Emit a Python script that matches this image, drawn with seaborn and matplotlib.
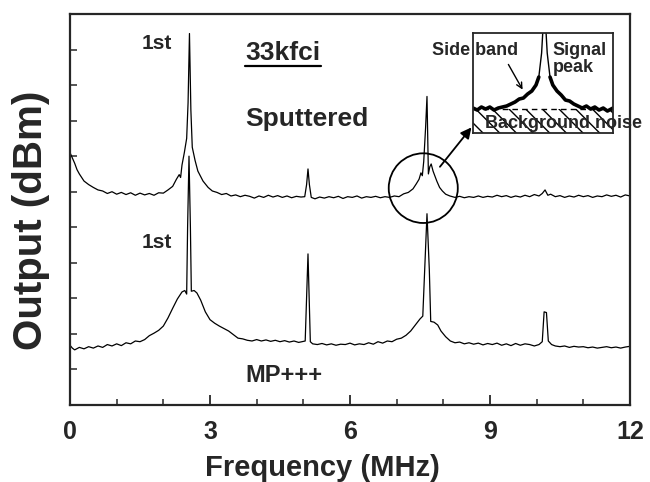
import matplotlib
matplotlib.use("Agg")
import matplotlib.pyplot as plt
from matplotlib.patches import Ellipse
import seaborn as sns
import numpy as np
import pandas as pd

# spectrum of the sputtered medium (upper trace)
sput_freq = [0.00, 0.05, 0.10, 0.15, 0.20, 0.25, 0.30, 0.40, 0.50, 0.60, 0.70, 0.80, 0.90,
             1.00, 1.10, 1.20, 1.30, 1.40, 1.50, 1.60, 1.70, 1.80, 1.90, 2.00, 2.10, 2.20,
             2.28, 2.34, 2.37, 2.40, 2.45, 2.50, 2.53, 2.56, 2.59, 2.62, 2.68, 2.74, 2.85,
             2.96, 3.05, 3.15, 3.25, 3.35, 3.45, 3.55, 3.65, 3.75, 3.85, 3.95, 4.05, 4.15,
             4.25, 4.35, 4.45, 4.55, 4.65, 4.75, 4.85, 4.95, 5.03, 5.07, 5.10, 5.13, 5.17,
             5.25, 5.35, 5.45, 5.55, 5.65, 5.75, 5.85, 5.95, 6.05, 6.15, 6.25, 6.35, 6.45,
             6.55, 6.65, 6.75, 6.85, 6.95, 7.05, 7.15, 7.25, 7.35, 7.42, 7.48, 7.52, 7.55,
             7.58, 7.62, 7.65, 7.68, 7.71, 7.74, 7.78, 7.86, 7.92, 7.98, 8.05, 8.14, 8.25,
             8.35, 8.45, 8.55, 8.65, 8.75, 8.85, 8.95, 9.05, 9.15, 9.25, 9.35, 9.45, 9.55,
             9.65, 9.75, 9.85, 9.95, 10.05, 10.12, 10.18, 10.24, 10.30, 10.40, 10.50, 10.60,
             10.70, 10.80, 10.90, 11.00, 11.10, 11.20, 11.30, 11.40, 11.50, 11.60, 11.70,
             11.80, 11.90, 12.00]
sput_out = [7.10, 6.95, 6.80, 6.62, 6.50, 6.40, 6.30, 6.20, 6.12, 6.05, 6.02, 5.95, 6.00,
            5.93, 5.98, 5.92, 5.97, 5.90, 5.96, 5.91, 5.95, 5.90, 5.97, 5.96, 6.05, 6.15,
            6.35, 6.48, 6.40, 6.75, 7.10, 7.50, 8.50, 10.45, 8.30, 7.25, 6.88, 6.58, 6.30,
            6.12, 6.02, 5.98, 5.92, 5.95, 5.88, 5.91, 5.86, 5.90, 5.87, 5.82, 5.88, 5.84,
            5.90, 5.85, 5.89, 5.84, 5.88, 5.83, 5.87, 5.85, 5.86, 6.20, 6.64, 6.20, 5.84,
            5.80, 5.85, 5.82, 5.86, 5.83, 5.87, 5.81, 5.86, 5.84, 5.88, 5.82, 5.86, 5.84,
            5.87, 5.83, 5.86, 5.84, 5.88, 5.86, 5.94, 5.98, 6.08, 6.22, 6.35, 6.53, 6.45,
            6.85, 7.80, 8.68, 6.50, 6.70, 6.78, 6.58, 6.30, 6.12, 6.02, 5.93, 5.88, 5.84,
            5.87, 5.83, 5.86, 5.84, 5.88, 5.84, 5.87, 5.85, 5.90, 5.86, 5.89, 5.84, 5.88,
            5.85, 5.90, 5.86, 5.92, 5.88, 5.95, 6.05, 5.90, 5.93, 5.86, 5.89, 5.84,
            5.88, 5.85, 5.90, 5.86, 5.89, 5.84, 5.88, 5.86, 5.91, 5.87, 5.90,
            5.85, 5.91, 5.88]

# spectrum of the MP+++ medium (lower trace)
mp_freq = [0.00, 0.05, 0.10, 0.20, 0.30, 0.40, 0.50, 0.60, 0.70, 0.80, 0.90, 1.00, 1.10,
           1.20, 1.30, 1.40, 1.50, 1.60, 1.70, 1.80, 1.90, 2.00, 2.10, 2.20, 2.30, 2.40,
           2.46, 2.50, 2.52, 2.55, 2.58, 2.60, 2.66, 2.72, 2.80, 2.90, 3.00, 3.10, 3.20,
           3.30, 3.40, 3.50, 3.60, 3.70, 3.80, 3.90, 4.00, 4.10, 4.20, 4.30, 4.40, 4.50,
           4.60, 4.70, 4.80, 4.90, 5.00, 5.04, 5.10, 5.15, 5.20, 5.30, 5.40, 5.50, 5.60,
           5.70, 5.80, 5.90, 6.00, 6.10, 6.20, 6.30, 6.40, 6.50, 6.60, 6.70, 6.80, 6.90,
           7.00, 7.10, 7.20, 7.30, 7.40, 7.50, 7.56, 7.60, 7.65, 7.70, 7.73, 7.80, 7.88,
           7.95, 8.05, 8.15, 8.25, 8.35, 8.45, 8.55, 8.65, 8.75, 8.85, 8.95, 9.05, 9.15,
           9.25, 9.35, 9.45, 9.55, 9.65, 9.75, 9.85, 9.95, 10.05, 10.12, 10.16, 10.21,
           10.25, 10.32, 10.40, 10.50, 10.60, 10.70, 10.80, 10.90, 11.00, 11.10, 11.20,
           11.30, 11.40, 11.50, 11.60, 11.70, 11.80, 11.90, 12.00]
mp_out = [1.68, 1.60, 1.55, 1.62, 1.58, 1.64, 1.60, 1.66, 1.62, 1.70, 1.66, 1.72, 1.67,
          1.75, 1.72, 1.80, 1.78, 1.84, 1.95, 2.02, 2.10, 2.22, 2.45, 2.72, 2.98, 3.18,
          3.22, 3.12, 5.00, 7.00, 5.00, 3.20, 3.22, 3.15, 2.95, 2.62, 2.40, 2.30, 2.22,
          2.15, 2.08, 1.98, 1.88, 1.86, 1.82, 1.80, 1.84, 1.80, 1.83, 1.79, 1.82, 1.78,
          1.81, 1.77, 1.80, 1.76, 1.79, 1.80, 4.25, 1.78, 1.72, 1.70, 1.73, 1.69, 1.72,
          1.68, 1.71, 1.70, 1.74, 1.69, 1.72, 1.70, 1.75, 1.71, 1.78, 1.74, 1.80, 1.78,
          1.85, 1.88, 1.96, 2.08, 2.25, 2.42, 2.50, 3.80, 5.38, 3.80, 2.35, 2.33, 2.25,
          2.08, 1.92, 1.80, 1.75, 1.77, 1.72, 1.75, 1.71, 1.74, 1.69, 1.73, 1.70, 1.74,
          1.68, 1.72, 1.67, 1.73, 1.68, 1.72, 1.70, 1.66, 1.70, 1.78, 2.62, 2.60,
          1.80, 1.70, 1.66, 1.64, 1.66, 1.62, 1.65, 1.63, 1.64, 1.61, 1.63,
          1.60, 1.62, 1.64, 1.61, 1.63, 1.60, 1.63, 1.65]

# schematic of the 7.65 MHz peak in the inset (arbitrary units)
inset_x = [0.00, 0.03, 0.06, 0.09, 0.12, 0.15, 0.18, 0.21, 0.24, 0.27, 0.30, 0.33, 0.36,
           0.39, 0.42, 0.45, 0.47, 0.49, 0.50, 0.52, 0.53, 0.55, 0.57, 0.60, 0.63, 0.66,
           0.69, 0.72, 0.75, 0.78, 0.81, 0.84, 0.87, 0.90, 0.93, 0.96, 1.00]
inset_y = [0.25, 0.23, 0.26, 0.24, 0.26, 0.23, 0.25, 0.26, 0.27, 0.29, 0.31, 0.34, 0.35,
           0.39, 0.42, 0.48, 0.56, 0.80, 1.05, 1.05, 0.80, 0.56, 0.48, 0.42, 0.38, 0.33,
           0.32, 0.29, 0.27, 0.25, 0.27, 0.24, 0.26, 0.23, 0.25, 0.22, 0.25]
noise_level = 0.24

xticks = [0, 3, 6, 9, 12]

sns.set_style("ticks")
plt.rcParams['font.family'] = ['Liberation Sans', 'DejaVu Sans']
plt.rcParams['font.weight'] = 'bold'

sput = pd.DataFrame({"freq": sput_freq, "out": sput_out})
mp = pd.DataFrame({"freq": mp_freq, "out": mp_out})

fig = plt.figure(figsize=(6.5, 4.82), dpi=100)
ax = fig.add_axes([0.1077, 0.1598, 0.8615, 0.8112])

sns.lineplot(data=sput, x="freq", y="out", ax=ax, color="black", lw=0.9,
             estimator=None, sort=False)
sns.lineplot(data=mp, x="freq", y="out", ax=ax, color="black", lw=0.9,
             estimator=None, sort=False)

ax.set_xlim(0, 12)
ax.set_ylim(0, 11)
ax.set_xticks(xticks)
ax.set_xticks([1, 2, 4, 5, 7, 8, 10, 11], minor=True)
ax.set_xticklabels([str(t) for t in xticks], fontsize=18, fontweight="bold")
ax.set_yticks(range(1, 11))
ax.set_yticklabels([])
ax.tick_params(axis="x", which="major", direction="in", length=7, width=1.3, pad=11)
ax.tick_params(axis="x", which="minor", direction="in", length=4, width=1.1)
ax.tick_params(axis="y", direction="in", length=5, width=1.1)
for s in ax.spines.values():
    s.set_linewidth(1.6)
    s.set_visible(True)

ax.set_xlabel("Frequency (MHz)", fontsize=21, fontweight="bold")
ax.set_ylabel("Output (dBm)", fontsize=29, fontweight="bold")
ax.xaxis.set_label_coords(0.45, -0.125)
ax.yaxis.set_label_coords(-0.035, 0.473)

# labels
ax.text(1.86, 10.17, "1st", fontsize=15, fontweight="bold", ha="center", va="center")
ax.text(1.86, 4.57, "1st", fontsize=15, fontweight="bold", ha="center", va="center")
ax.text(3.75, 9.89, "33kfci", fontsize=19, fontweight="bold", ha="left", va="center")
ax.plot([3.75, 5.38], [9.54, 9.54], color="black", lw=1.6)
ax.text(3.75, 8.04, "Sputtered", fontsize=19, fontweight="bold", ha="left", va="center")
ax.text(3.75, 0.84, "MP+++", fontsize=17, fontweight="bold", ha="left", va="center")

# circle round the 7.65 MHz peak and the arrow to the inset
ax.add_patch(Ellipse((7.57, 6.1), 1.48, 1.96, fill=False, lw=1.3, color="black"))
ax.annotate("", xy=(8.64, 7.87), xytext=(7.89, 6.64),
            arrowprops=dict(arrowstyle="-|>", color="black", lw=1.3, mutation_scale=16))

# inset
ins = fig.add_axes([0.7277, 0.724, 0.2154, 0.2075])
ins.set_xlim(0, 1)
ins.set_ylim(0, 1)
ins.set_xticks([])
ins.set_yticks([])
for s in ins.spines.values():
    s.set_linewidth(1.3)
ins.axhspan(0, noise_level, fill=False, hatch="\\\\", lw=0, edgecolor="black")
ins.axhline(noise_level, color="black", lw=1.0, ls=(0, (4, 3)))
sns.lineplot(x=inset_x, y=inset_y, ax=ins, color="black", lw=1.0, estimator=None, sort=False)
side_y = [v if v < 0.6 else np.nan for v in inset_y]
ins.plot(inset_x, side_y, color="black", lw=2.6)
ins.text(0.014, 0.83, "Side band", fontsize=13, fontweight="bold", ha="center", va="center")
ins.annotate("", xy=(0.364, 0.41), xytext=(0.243, 0.71),
             arrowprops=dict(arrowstyle="->", color="black", lw=1.0))
ins.text(0.571, 0.74, "Signal\npeak", fontsize=13, fontweight="bold", ha="left",
         va="center", linespacing=1.0)
ins.text(0.086, 0.10, "Background noise", fontsize=13, fontweight="bold", ha="left",
         va="center")

fig.savefig("out.png", dpi=100)
